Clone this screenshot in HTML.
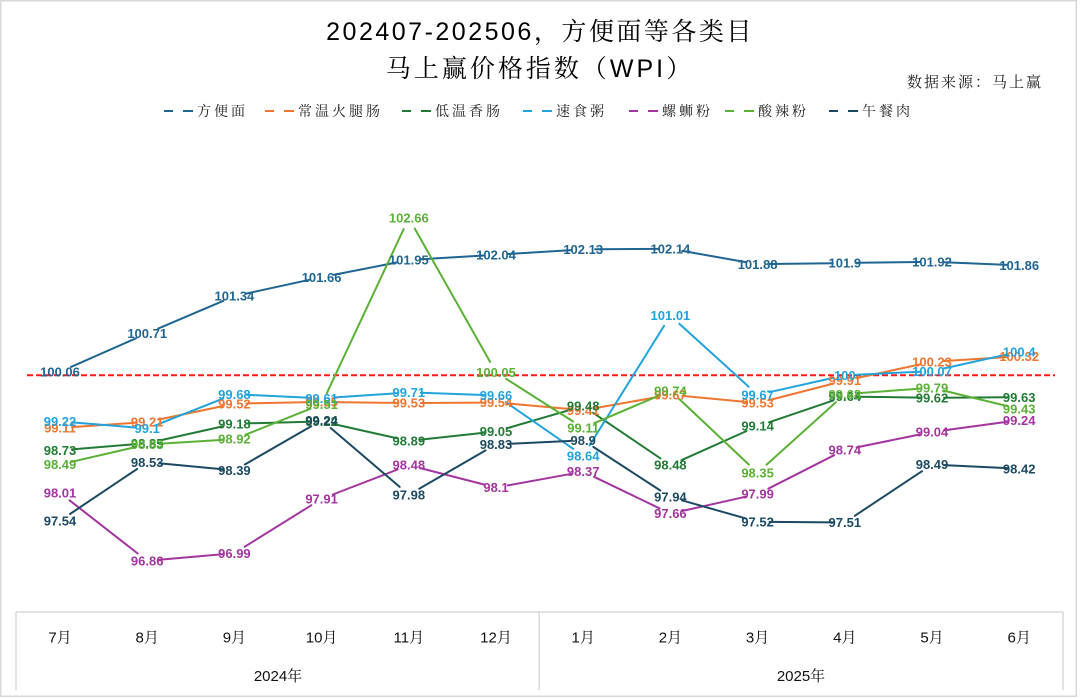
<!DOCTYPE html>
<html>
<head>
<meta charset="utf-8">
<style>
html,body{margin:0;padding:0;background:#fff;}
svg{display:block;}
.cjk{font-family:"Liberation Sans","Noto Serif CJK SC","Noto Sans CJK SC",serif;}
.lbl{font-family:"Liberation Sans",sans-serif;font-size:13px;font-weight:bold;}
</style>
</head>
<body>
<svg id="c" width="1080" height="698" viewBox="0 0 1080 698" xmlns="http://www.w3.org/2000/svg">
  <rect x="0" y="0" width="1080" height="698" fill="#fff"/>
  <rect x="0.75" y="0.75" width="1075.5" height="695.5" fill="none" stroke="#d9d9d9" stroke-width="1.5"/>

  <!-- Title -->
  <text class="cjk" x="540" y="40" font-size="25" letter-spacing="2.5" text-anchor="middle" fill="#000">202407-202506，方便面等各类目</text>
  <text class="cjk" x="540" y="77" font-size="25" letter-spacing="3" text-anchor="middle" fill="#000">马上赢价格指数（WPI）</text>
  <text class="cjk" x="1043" y="87" font-size="15" letter-spacing="2" text-anchor="end" fill="#222">数据来源：马上赢</text>

  <!-- Legend -->
  <g id="legend"></g>

  <!-- reference line -->
  <line x1="27" y1="375.3" x2="1055" y2="375.3" stroke="#ff1a1a" stroke-width="2" stroke-dasharray="6,3"/>

  <g id="lines"></g>
  <g id="labels"></g>

  <!-- category axis box -->
  <g stroke="#d9d9d9" stroke-width="1.5" fill="none">
    <line x1="16" y1="612" x2="1063" y2="612"/>
    <line x1="16" y1="612" x2="16" y2="690"/>
    <line x1="539.2" y1="612" x2="539.2" y2="690"/>
    <line x1="1063" y1="612" x2="1063" y2="690"/>
  </g>
  <g id="months" class="cjk" font-size="15" fill="#111" text-anchor="middle"></g>
  <text class="cjk" x="278" y="681" font-size="15" text-anchor="middle" fill="#111">2024年</text>
  <text class="cjk" x="801" y="681" font-size="15" text-anchor="middle" fill="#111">2025年</text>
</svg>
<script>
(function(){
  var NS="http://www.w3.org/2000/svg";
  function el(tag,attrs,parent,txt){
    var e=document.createElementNS(NS,tag);
    for(var k in attrs){e.setAttribute(k,attrs[k]);}
    if(txt!==undefined){e.textContent=txt;}
    parent.appendChild(e);return e;
  }
  var series=[
    {name:"方便面",color:"#1f6592",d:[100.06,100.71,101.34,101.66,101.95,102.04,102.13,102.14,101.88,101.9,101.92,101.86]},
    {name:"常温火腿肠",color:"#ef7630",d:[99.11,99.21,99.52,99.55,99.53,99.54,99.41,99.67,99.53,99.91,100.23,100.32]},
    {name:"低温香肠",color:"#217a35",d:[98.73,98.85,99.18,99.22,98.89,99.05,99.48,98.48,99.14,99.64,99.62,99.63]},
    {name:"速食粥",color:"#21a3dc",d:[99.22,99.1,99.68,99.61,99.71,99.66,98.64,101.01,99.67,100,100.07,100.4]},
    {name:"螺蛳粉",color:"#a3359f",d:[98.01,96.86,96.99,97.91,98.48,98.1,98.37,97.66,97.99,98.74,99.04,99.24]},
    {name:"酸辣粉",color:"#5bb135",d:[98.49,98.83,98.92,99.51,102.66,100.05,99.11,99.74,98.35,99.68,99.79,99.43]},
    {name:"午餐肉",color:"#1c4962",d:[97.54,98.53,98.39,99.24,97.98,98.83,98.9,97.94,97.52,97.51,98.49,98.42]}
  ];
  function X(i){return 60+i*87.2;}
  function Y(v){return 375.3-(v-100)*59.1;}
  var G=12;
  var gl=document.getElementById("lines");
  var gb=document.getElementById("labels");
  series.forEach(function(s){
    for(var i=0;i<s.d.length-1;i++){
      var x1=X(i),y1=Y(s.d[i]),x2=X(i+1),y2=Y(s.d[i+1]);
      var dx=x2-x1,dy=y2-y1,L=Math.sqrt(dx*dx+dy*dy);
      if(L<=2*G+1)continue;
      var ux=dx/L,uy=dy/L;
      el("line",{x1:(x1+ux*G).toFixed(1),y1:(y1+uy*G).toFixed(1),x2:(x2-ux*G).toFixed(1),y2:(y2-uy*G).toFixed(1),
        stroke:s.color,"stroke-width":"2","stroke-linecap":"round"},gl);
    }
  });
  series.forEach(function(s){
    s.d.forEach(function(v,i){
      el("text",{x:X(i).toFixed(1),y:(Y(v)+4.6).toFixed(1),"class":"lbl",fill:s.color,"text-anchor":"middle"},gb,String(v));
    });
  });
  // legend
  var lg=document.getElementById("legend");
  var starts=[164,265,402,523,629,725,829];
  series.forEach(function(s,k){
    var x=starts[k];
    el("rect",{x:x,y:110,width:9,height:2,fill:s.color},lg);
    el("rect",{x:x+19,y:110,width:10,height:2,fill:s.color},lg);
    el("text",{x:x+33,y:116,"class":"cjk","font-size":"14","letter-spacing":"3",fill:"#222"},lg,s.name);
  });
  // months
  var months=["7月","8月","9月","10月","11月","12月","1月","2月","3月","4月","5月","6月"];
  var gm=document.getElementById("months");
  months.forEach(function(m,i){
    el("text",{x:X(i).toFixed(1),y:"642.5"},gm,m);
  });
})();
</script>
</body>
</html>
